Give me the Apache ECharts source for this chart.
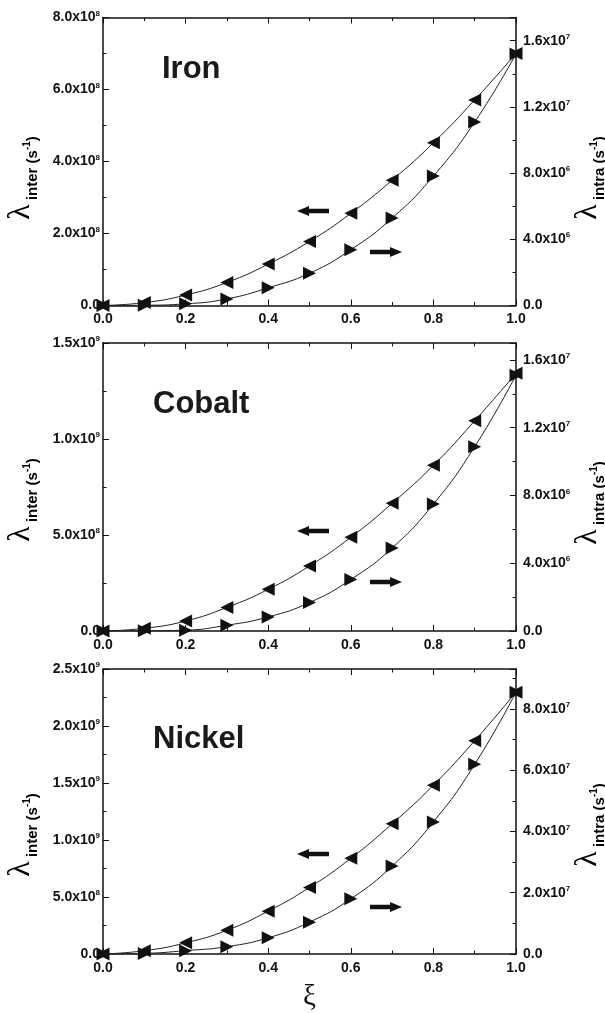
<!DOCTYPE html>
<html>
<head>
<meta charset="utf-8">
<script src="https://cdn.jsdelivr.net/npm/echarts@6/dist/echarts.min.js"></script>
<style>
html, body { margin: 0; padding: 0; background: #fff; }
#main { width: 605px; height: 1013px; }
</style>
</head>
<body>
<div id="main"></div>
<script>
// xi values shared by every panel
const xi = [0, 0.1, 0.2, 0.3, 0.4, 0.5, 0.6, 0.7, 0.8, 0.9, 1.0];

const ironInter = [0, 8e6, 2.9e7, 6.4e7, 1.15e8, 1.78e8, 2.56e8, 3.48e8, 4.52e8, 5.71e8, 7.0e8];
const ironIntra = [0, 1.5e4, 1.0e5, 4.0e5, 1.07e6, 1.95e6, 3.37e6, 5.28e6, 7.82e6, 1.109e7, 1.52e7];
const cobaltInter = [0, 1.4e7, 5.2e7, 1.23e8, 2.17e8, 3.39e8, 4.88e8, 6.65e8, 8.63e8, 1.095e9, 1.342e9];
const cobaltIntra = [0, 1e4, 5e4, 3.4e5, 8.3e5, 1.68e6, 3.04e6, 4.9e6, 7.49e6, 1.088e7, 1.51e7];
const nickelInter = [0, 2.9e7, 9.8e7, 2.08e8, 3.76e8, 5.84e8, 8.39e8, 1.142e9, 1.481e9, 1.871e9, 2.297e9];
const nickelIntra = [0, 2e5, 1.1e6, 2.4e6, 5.3e6, 1.04e7, 1.8e7, 2.87e7, 4.31e7, 6.19e7, 8.54e7];

const panelNames = ['Iron', 'Cobalt', 'Nickel'];
const interData = [ironInter, cobaltInter, nickelInter];
const intraData = [ironIntra, cobaltIntra, nickelIntra];
const interMax = [8e8, 1.5e9, 2.5e9];
const interStep = [2e8, 5e8, 5e8];
const intraMax = [1.74e7, 1.7e7, 9.3e7];
const intraStep = [4e6, 4e6, 2e7];

const FONT = 'Liberation Sans';
const INK = '#111';
const gridTop = [17.5, 343, 669];
const gridLeft = 103, gridW = 413, gridH = 288;

// arrows: y of left arrow / right arrow in each panel
const arrowLeftY = [211, 531, 854];
const arrowRightY = [252, 582, 907];
const nameYLeft = [178, 500, 835];
const nameYRight = [178, 503, 825];
const titleTop = [54, 389, 724];
const titleLeft = [162, 153, 153];

let chartDom = document.getElementById('main');
let myChart = echarts.init(chartDom);

const sciLabel = (step) => (v) => {
    if (Math.abs(v / step - Math.round(v / step)) > 1e-6) return '';
    if (v === 0) return '{m|0.0}';
    const e = Math.floor(Math.log10(v) + 1e-9);
    const m = v / Math.pow(10, e);
    return '{m|' + m.toFixed(1) + 'x10}{s|' + e + '}';
};
const labelRich = {
    m: { fontFamily: FONT, fontWeight: 'bold', fontSize: 14, color: INK, lineHeight: 16 },
    s: { fontFamily: FONT, fontWeight: 'bold', fontSize: 8, color: INK, verticalAlign: 'top', lineHeight: 8 }
};
const lineStyle = { color: INK, width: 1.5 };

// rich text for the rotated axis names
const nameRich = {
    l: { fontFamily: 'Liberation Serif', fontSize: 32, color: INK, verticalAlign: 'bottom', lineHeight: 30, padding: [0, 0, 3, 0] },
    i: { fontFamily: FONT, fontWeight: 'bold', fontSize: 15, color: INK, verticalAlign: 'bottom', lineHeight: 17 },
    p: { fontFamily: FONT, fontWeight: 'bold', fontSize: 15, color: INK, verticalAlign: 'bottom', lineHeight: 17 },
    u: { fontFamily: FONT, fontWeight: 'bold', fontSize: 10, color: INK, verticalAlign: 'bottom', lineHeight: 10, padding: [0, 0, 8, 0] }
};

let grid = [], xAxis = [], yAxis = [], series = [], title = [], graphic = [];

for (let i = 0; i < 3; i++) {
    grid.push({ left: gridLeft, top: gridTop[i], width: gridW, height: gridH });
    // bottom x axis with labels
    xAxis.push({
        type: 'value', gridIndex: i, min: 0, max: 1, interval: 0.2, position: 'bottom',
        axisLine: { onZero: false, lineStyle: lineStyle },
        axisTick: { inside: true, length: 6, lineStyle: { color: INK } },
        minorTick: { show: true, splitNumber: 2, length: 3.5, lineStyle: { color: INK } },
        splitLine: { show: false },
        axisLabel: { color: INK, fontFamily: FONT, fontWeight: 'bold', fontSize: 14, margin: 7, formatter: (v) => v.toFixed(1) },
        name: i === 2 ? 'ξ' : '', nameLocation: 'middle', nameGap: 29,
        nameTextStyle: { fontFamily: 'Liberation Serif', fontSize: 29, color: INK }
    });
    // top x axis, ticks only
    xAxis.push({
        type: 'value', gridIndex: i, min: 0, max: 1, interval: 0.2, position: 'top',
        axisLine: { onZero: false, lineStyle: lineStyle },
        axisTick: { inside: true, length: 6, lineStyle: { color: INK } },
        minorTick: { show: true, splitNumber: 2, length: 3.5, lineStyle: { color: INK } },
        splitLine: { show: false },
        axisLabel: { show: false }
    });
    yAxis.push({
        type: 'value', gridIndex: i, min: 0, max: interMax[i], interval: interStep[i], position: 'left',
        axisLine: { onZero: false, lineStyle: lineStyle },
        axisTick: { inside: true, length: 6, lineStyle: { color: INK } },
        minorTick: { show: true, splitNumber: 2, length: 3.5, lineStyle: { color: INK } },
        splitLine: { show: false },
        axisLabel: { margin: 3, formatter: sciLabel(interStep[i]), rich: labelRich }
    });
    yAxis.push({
        type: 'value', gridIndex: i, min: 0, max: intraMax[i], interval: intraStep[i], position: 'right',
        axisLine: { onZero: false, lineStyle: lineStyle },
        axisTick: { inside: true, length: 6, lineStyle: { color: INK } },
        minorTick: { show: true, splitNumber: 2, length: 3.5, lineStyle: { color: INK } },
        splitLine: { show: false },
        axisLabel: { margin: 7, formatter: sciLabel(intraStep[i]), rich: labelRich }
    });

    series.push({
        name: panelNames[i] + ' inter', type: 'line', xAxisIndex: 2 * i, yAxisIndex: 2 * i,
        data: xi.map((x, k) => [x, interData[i][k]]),
        smooth: true, symbol: 'triangle', symbolSize: 13, symbolRotate: 90,
        lineStyle: { color: '#222', width: 1 }, itemStyle: { color: INK }
    });
    series.push({
        name: panelNames[i] + ' intra', type: 'line', xAxisIndex: 2 * i, yAxisIndex: 2 * i + 1,
        data: xi.map((x, k) => [x, intraData[i][k]]),
        smooth: true, symbol: 'triangle', symbolSize: 13, symbolRotate: -90,
        lineStyle: { color: '#222', width: 1 }, itemStyle: { color: INK }
    });

    title.push({
        text: panelNames[i], left: titleLeft[i], top: titleTop[i], padding: 0,
        textStyle: { fontFamily: FONT, fontWeight: 'bold', fontSize: 31, color: '#1a1a1a', lineHeight: 31 }
    });

    graphic.push({
        type: 'text', x: 25, y: nameYLeft[i], rotation: Math.PI / 2,
        style: { text: '{l|λ}{i| inter }{p|(s}{u|-1}{p|)}', rich: nameRich, align: 'center', verticalAlign: 'middle' }
    });
    graphic.push({
        type: 'text', x: 592, y: nameYRight[i], rotation: Math.PI / 2,
        style: { text: '{l|λ}{i| intra }{p|(s}{u|-1}{p|)}', rich: nameRich, align: 'center', verticalAlign: 'middle' }
    });

    // direction arrows
    const lx = 297, ly = arrowLeftY[i];
    graphic.push({
        type: 'polygon',
        shape: { points: [[lx, ly], [lx + 12, ly - 5], [lx + 12, ly - 2.2], [lx + 32, ly - 2.2], [lx + 32, ly + 2.2], [lx + 12, ly + 2.2], [lx + 12, ly + 5]] },
        style: { fill: INK }
    });
    const rx = 402, ry = arrowRightY[i];
    graphic.push({
        type: 'polygon',
        shape: { points: [[rx, ry], [rx - 12, ry - 5], [rx - 12, ry - 2.2], [rx - 32, ry - 2.2], [rx - 32, ry + 2.2], [rx - 12, ry + 2.2], [rx - 12, ry + 5]] },
        style: { fill: INK }
    });
}

const option = {
    backgroundColor: '#fff',
    animation: false,
    title: title,
    grid: grid,
    xAxis: xAxis,
    yAxis: yAxis,
    series: series,
    graphic: graphic
};
myChart.setOption(option);
</script>
</body>
</html>
